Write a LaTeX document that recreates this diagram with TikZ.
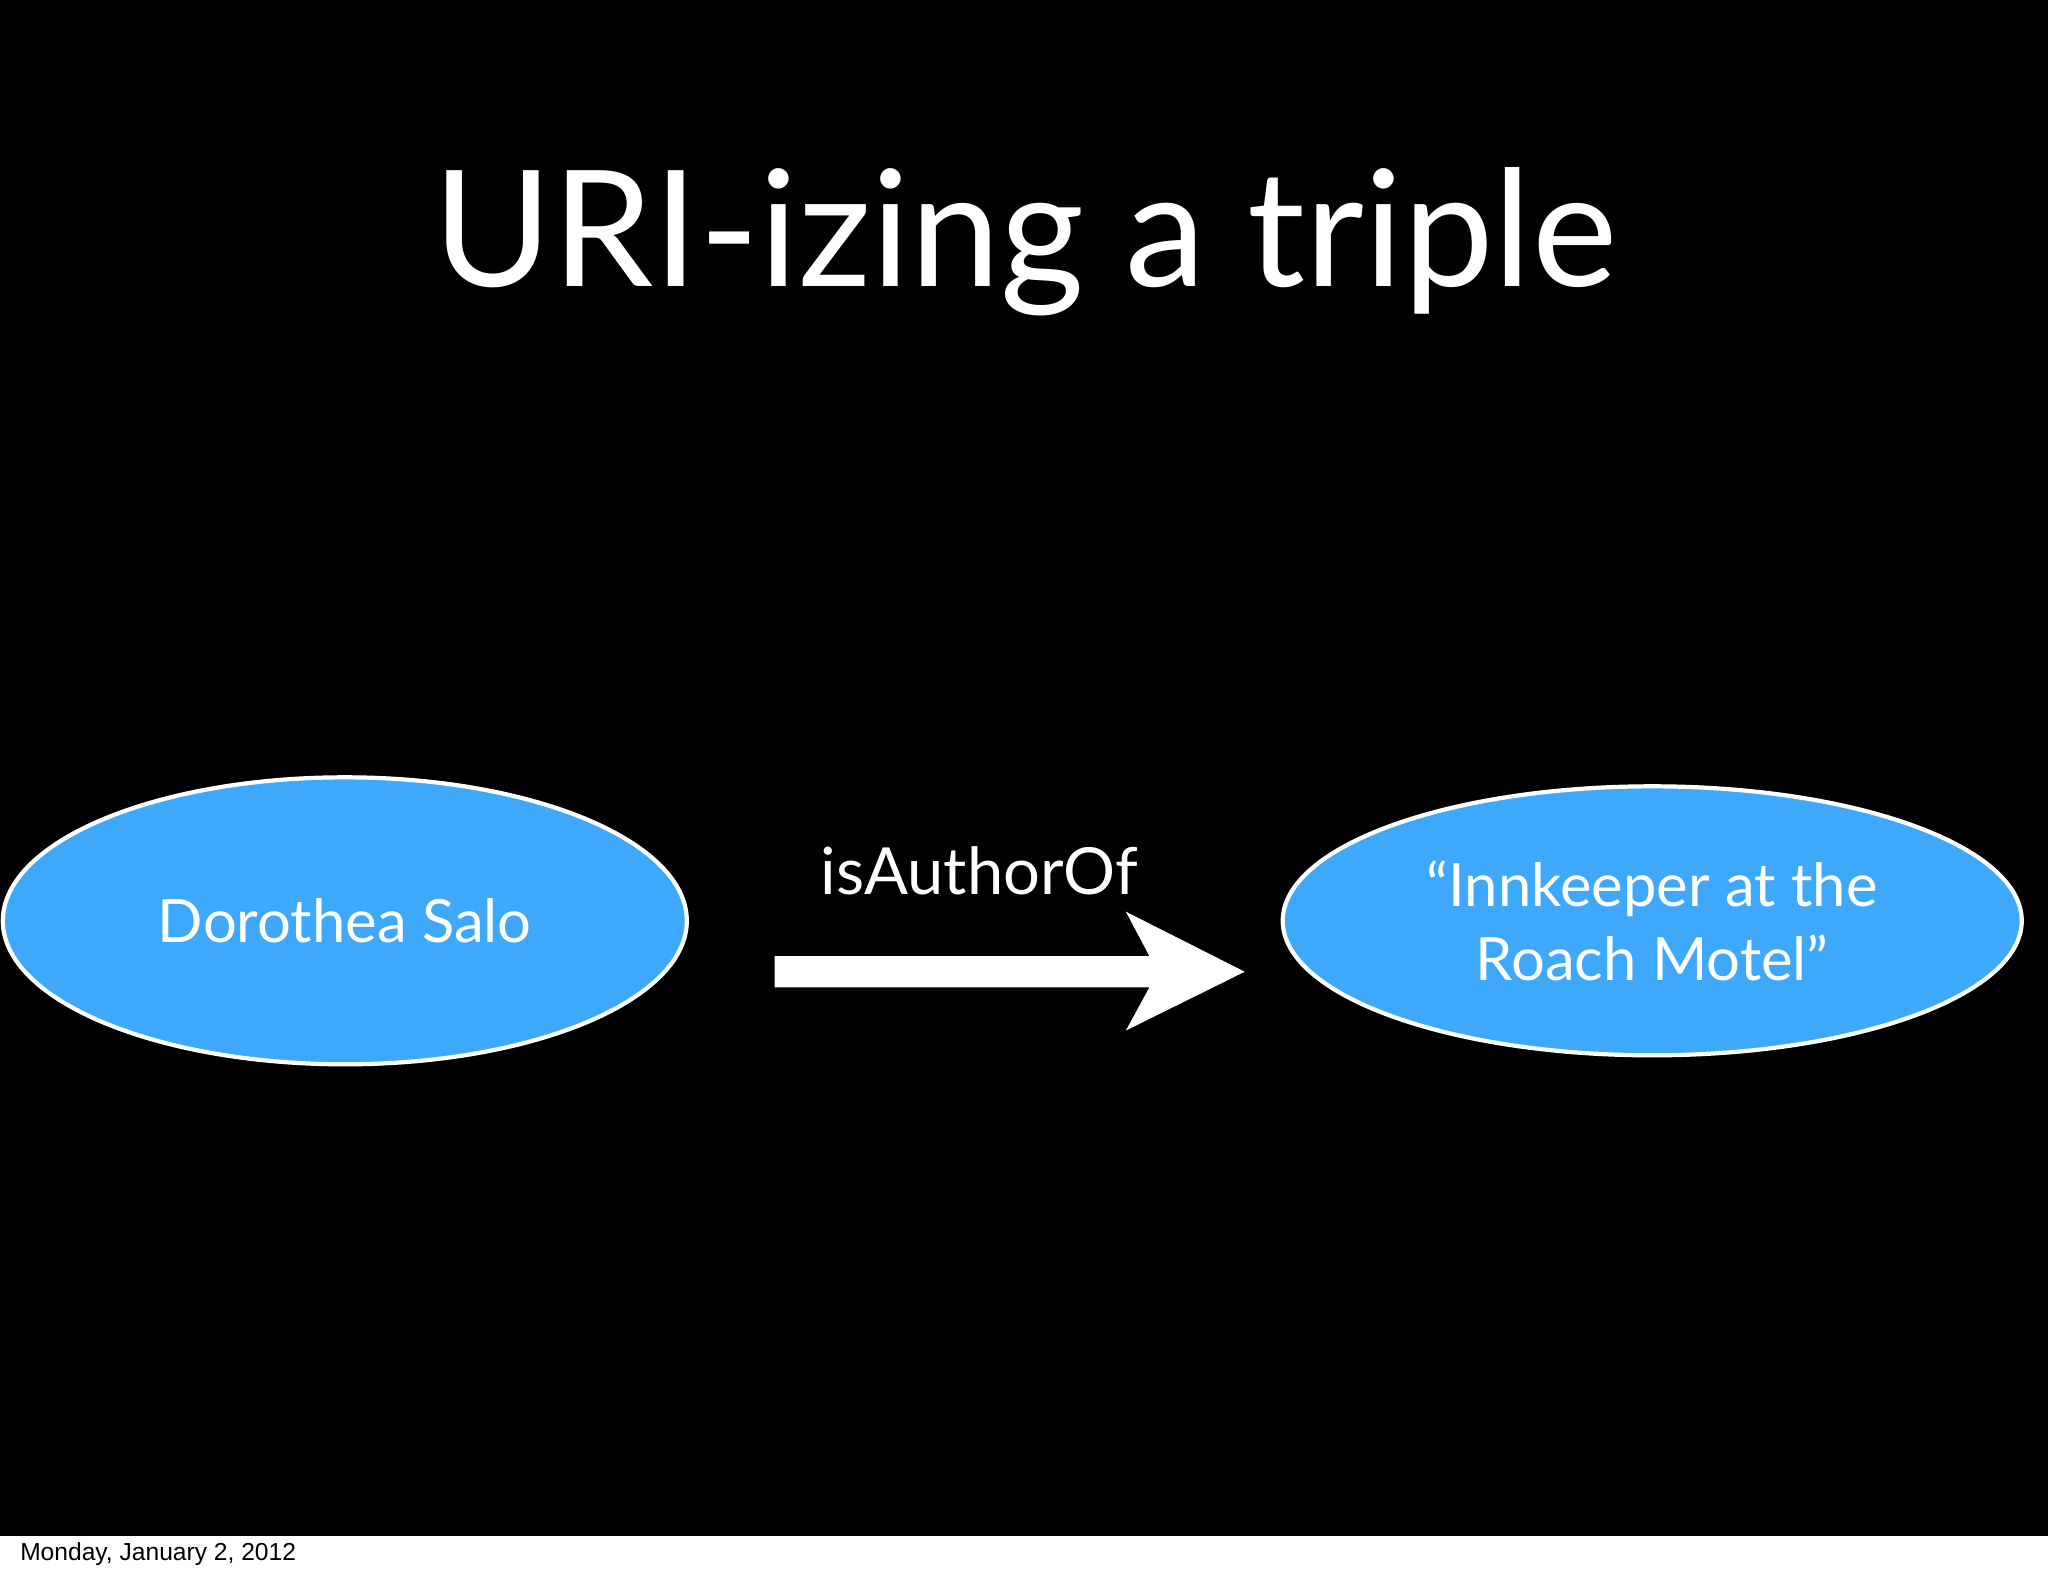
\documentclass[tikz,border=0pt]{standalone}
\usepackage{fontspec}
\usetikzlibrary{shapes.geometric}
\setmainfont{Lato}
\newfontfamily\footfont{Liberation Sans}
\definecolor{nodeblue}{HTML}{3EA8FA}
\begin{document}
\begin{tikzpicture}[x=0.01306cm,y=-0.01306cm,
  ell/.style={ellipse,draw=white,line width=1.2pt,fill=nodeblue,text=white,font=\fontsize{17}{21}\selectfont,align=center,inner sep=0pt},
  ]
\useasboundingbox (0,0) rectangle (1568,1206);
\fill[white] (0,0) rectangle (1568,1206);
\fill[black] (0,0) rectangle (1568,1176);
\node[text=white,font=\fontsize{46}{50}\selectfont] (title) at (785,185) {URI-izing a triple};
\node[ell,minimum width=6.84cm,minimum height=2.87cm] (a) at (264,705) {Dorothea Salo};
\node[ell,minimum width=7.39cm,minimum height=2.69cm] (b) at (1265,705) {“Innkeeper at the\\Roach Motel”};
\fill[white] (593,732) -- (880,732) -- (862,698) -- (953,744) -- (862,789) -- (880,756) -- (593,756) -- cycle;
\node[text=white,font=\fontsize{18.5}{22}\selectfont] (lab) at (750,667) {isAuthorOf};
\node[anchor=west,font=\footfont\fontsize{7}{8}\selectfont] (foot) at (6,1190) {Monday, January 2, 2012};
\end{tikzpicture}
\end{document}
